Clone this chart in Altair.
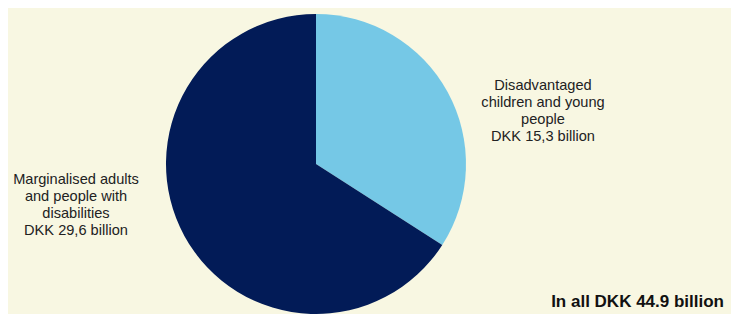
import altair as alt
import pandas as pd

categories = ["Disadvantaged children and young people", "Marginalised adults and people with disabilities"]
values = [15.3, 29.6]
colors = ["#75c8e6", "#021b57"]
order = [0, 1]

right_label = ["Disadvantaged", "children and young", "people", "DKK 15,3 billion"]
left_label = ["Marginalised adults", "and people with", "disabilities", "DKK 29,6 billion"]
total_label = "In all DKK 44.9 billion"

df = pd.DataFrame({"category": categories, "value": values, "order": order})

pie = alt.Chart(df).mark_arc(outerRadius=150, stroke=None).encode(
    theta=alt.Theta("value:Q", stack=True),
    order=alt.Order("order:Q"),
    color=alt.Color("category:N", scale=alt.Scale(domain=categories, range=colors), legend=None),
    x=alt.value(308),
    y=alt.value(156),
)

font = "Liberation Sans"

right = alt.Chart(pd.DataFrame({"t": [right_label]})).mark_text(
    font=font, fontSize=14.6, lineHeight=17, align="center", baseline="middle", color="#222222"
).encode(text="t", x=alt.value(535), y=alt.value(78))

left = alt.Chart(pd.DataFrame({"t": [left_label]})).mark_text(
    font=font, fontSize=14.6, lineHeight=17, align="center", baseline="middle", color="#222222"
).encode(text="t", x=alt.value(68), y=alt.value(172))

total = alt.Chart(pd.DataFrame({"t": [total_label]})).mark_text(
    font=font, fontSize=17, fontWeight="bold", align="right", baseline="alphabetic", color="#111111"
).encode(text="t:N", x=alt.value(716), y=alt.value(299))

chart = alt.layer(pie, right, left, total).properties(
    width=723, height=306,
    background="#f8f7e2",
    padding=0,
    autosize=alt.AutoSizeParams(type="none"),
).configure_view(stroke=None)

chart.save("out.html", embed_options={"renderer": "svg", "actions": False})
